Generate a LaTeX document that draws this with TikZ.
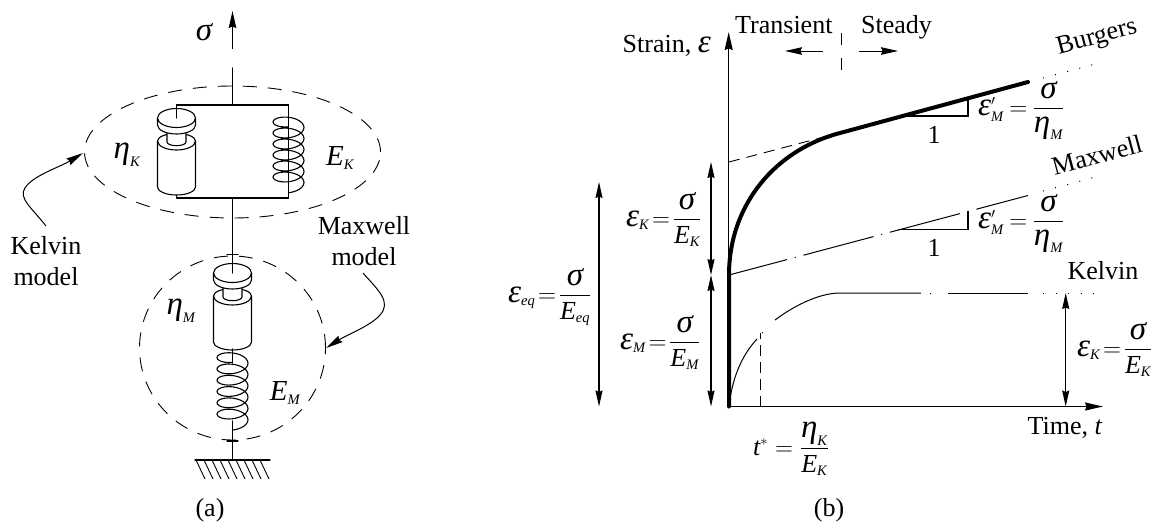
\documentclass[tikz,border=0pt]{standalone}
\usepackage{amsmath}
\usepackage{fontspec}
\setmainfont{Liberation Serif}
\usepackage{tikz}
\usetikzlibrary{arrows.meta}
\DeclareMathSizes{26}{26}{14.5}{11}
\newcommand{\ital}[1]{\text{\itshape #1}}
\newcommand{\grk}[1]{\text{\fontsize{33}{33}\selectfont\itshape #1}}
\newcommand{\bigE}{\text{\fontsize{29}{30}\selectfont\itshape E}}
\newcommand{\ratio}[2]{\genfrac{}{}{1pt}{0}{#1}{#2}}
\newcommand{\eqgap}[1]{\mkern#1mu{=}\mkern#1mu}

\begin{document}
\begin{tikzpicture}[
    x=1pt, y=-1pt,
    every node/.style={inner sep=0pt, font=\fontsize{26}{30}\selectfont},
    modelwire/.style={draw=black, line width=1.1pt, line cap=round, line join=round},
    modelbody/.style={draw=black, fill=white, line width=1.1pt, line join=round},
    dashring/.style={draw=black, line width=0.9pt, dash pattern=on 14pt off 11pt},
    thinline/.style={draw=black, line width=1.1pt},
    fatcurve/.style={draw=black, line width=4pt, line cap=round, line join=round},
    axisarrow/.style={draw=black, line width=1.5pt, -{Stealth[length=18pt,width=8pt,inset=1.5pt]}},
    dimarrow/.style={draw=black, line width=1.1pt, {Stealth[length=16pt,width=7pt,inset=1.5pt]}-{Stealth[length=16pt,width=7pt,inset=1.5pt]}},
    leadarrow/.style={draw=black, line width=1pt, -{Stealth[length=17pt,width=7.5pt,inset=1.5pt]}},
    longdot/.style={draw=black, line width=1pt, dash pattern=on 72.5pt off 8pt on 1pt off 8pt, dash phase=12.5pt},
    dotted tail/.style={draw=black, line width=1pt, dash pattern=on 1pt off 11.5pt}
]
  \useasboundingbox (0,0) rectangle (1156,525);

  % (a)
  \draw[leadarrow] (232.5,49) -- (232.5,11);
  \draw[modelwire] (232.5,68) -- (232.5,105);
  \draw[modelwire] (176.5,105) rectangle (288.5,198);
  \draw[modelwire] (232.5,198) -- (232.5,273);
  \draw[modelwire] (227,254.5) -- (238,254.5);
  \draw[dashring] (232.5,152) circle [x radius=148pt, y radius=66pt];
  \draw[dashring] (232.5,348) circle [x radius=93pt, y radius=92pt];
  \foreach \px/\py in {176.5/0,232.5/155} {
    \begin{scope}[shift={(\px,\py)}]
      \draw[modelbody] (-19,141) -- (-19,187) arc[start angle=180,end angle=360,x radius=19pt,y radius=8pt] -- (19,141) arc[start angle=0,end angle=180,x radius=19pt,y radius=7.5pt] -- cycle;
      \draw[modelwire] (-19,141) arc[start angle=180,end angle=360,x radius=19pt,y radius=9pt];
      \draw[modelbody] (-9.5,128) -- (-9.5,142) arc[start angle=180,end angle=360,x radius=9.5pt,y radius=3.7pt] -- (9.5,128) -- cycle;
      \draw[modelbody] (-19,118) -- (-19,125) arc[start angle=180,end angle=360,x radius=19pt,y radius=9pt] -- (19,118) -- cycle;
      \draw[modelbody] (0,118) circle [x radius=19pt, y radius=9.5pt];
      \draw[modelwire] (0,105) -- (0,118);
    \end{scope}
  }
  \foreach \cx/\cy/\cp in {288.5/127.5/11,232.5/363.25/11.3} {
    \draw[modelwire] plot[smooth, domain=-270:1890, samples=145, variable=\t] ({\cx+15.5*cos(\t)},{\cy+\cp*(\t/360)+7.5*sin(\t)});
  }
  \draw[modelwire] (288.5,105) -- (288.5,127);
  \draw[modelwire] (288.5,186) -- (288.5,198);
  \draw[modelwire] (232.5,349) -- (232.5,363);
  \draw[modelwire] (232.5,421) -- (232.5,460);
  \draw[modelwire] (227,441) -- (238,441);
  \draw[modelwire] (195,460) -- (270,460);
  \foreach \hx in {196,204,...,260} {
    \draw[line width=0.9pt] (\hx,460) -- (\hx+9,479);
  }
  \draw[leadarrow] (46,226) .. controls (32,208) and (18,198) .. (25,188) .. controls (32,176) and (60,167) .. (83,153);
  \draw[leadarrow] (363,273) .. controls (378,290) and (392,302) .. (380,315) .. controls (372,325) and (345,336) .. (326,348);

  \node (sigma) at (204,32) {$\grk{σ}$};
  \node (etak) at (127,155) {$\grk{η}_{\ital{K}}$};
  \node (emodk) at (340,158) {$\bigE_{\ital{K}}$};
  \node (etam) at (181,311) {$\grk{η}_{\ital{M}}$};
  \node (emodm) at (285,393) {$\bigE_{\ital{M}}$};
  \node (kelvintext) at (46,246) {Kelvin};
  \node (kelvinmodel) at (46,277) {model};
  \node (maxwelltext) at (364,226) {Maxwell};
  \node (maxwellmodel) at (364,257) {model};
  \node (capa) at (210,510) {(a)};

  % (b)
  \draw[axisarrow] (728.7,407) -- (728.7,32);
  \draw[axisarrow] (728.7,406.5) -- (1103,406.5);
  \draw[dashring, dash pattern=on 11pt off 7pt] (729,162) -- (820,138);
  \draw[fatcurve] (729,406.5) -- (729,275) .. controls (729,205) and (775,150) .. (840,133) -- (1028,82);
  \draw[dotted tail] (1043,78) -- (1103,62);
  \draw[longdot] (729,275) -- (1028,195.5);
  \draw[dotted tail] (1043,191) -- (1103,175);
  \draw[thinline, line width=1pt] (729,406) .. controls (733,372) and (745,352) .. (757,339);
  \draw[thinline, line width=1pt] (775,320) .. controls (795,305) and (820,293) .. (840,293) -- (921,293);
  \draw[thinline, line width=1pt] (948,293) -- (1028,293);
  \draw[dotted tail] (1043,293) -- (1104,293);
  \draw[dotted tail] (930,293) -- (940,293);
  \draw[dotted tail] (762,333) -- (769,327);
  \draw[dashring, dash pattern=on 11pt off 6pt] (760.7,406.5) -- (760.7,333);
  \draw[dashring, dash pattern=on 12pt off 13pt] (841,33) -- (841,70);
  \draw[leadarrow] (823,51) -- (785,51);
  \draw[leadarrow] (859,51) -- (898,51);
  \draw[thinline] (907,116) -- (968,116) -- (968,97);
  \draw[thinline] (898,229.3) -- (968,229.3) -- (968,211);
  \draw[dimarrow] (711,162) -- (711,275);
  \draw[dimarrow] (711,275) -- (711,406.5);
  \draw[dimarrow] (599,182) -- (599,406.5);
  \draw[dimarrow] (1065.7,293) -- (1065.7,406.5);

  \node[anchor=base east] (strain) at (711,52) {Strain, $\grk{ε}$};
  \node[anchor=base west] (transient) at (735,33) {Transient};
  \node[anchor=base west] (steady) at (861,33) {Steady};
  \node[rotate=15] (burgers) at (1097,38) {Burgers};
  \node[rotate=15] (maxwell) at (1097,155) {Maxwell};
  \node (kelvin) at (1103,271) {Kelvin};
  \node (one) at (934,135) {1};
  \node (onem) at (934,248) {1};
  \node[anchor=base east] (time) at (1102,434) {Time, $\ital{t}$};
  \node (capb) at (829,510) {(b)};
  \node[anchor=base west] (rateb) at (978,115) {$\grk{ε}'_{\ital{M}}\eqgap{4}\ratio{\grk{σ}}{\grk{η}_{\ital{M}}}$};
  \node[anchor=base west] (ratem) at (978,228) {$\grk{ε}'_{\ital{M}}\eqgap{4}\ratio{\grk{σ}}{\grk{η}_{\ital{M}}}$};
  \node[anchor=base west] (epsk) at (626,226) {$\grk{ε}_{\ital{K}}\eqgap{2}\ratio{\grk{σ}}{\ital{E}_{\ital{K}}}$};
  \node[anchor=base west] (epsm) at (620,349) {$\grk{ε}_{\ital{M}}\eqgap{2}\ratio{\grk{σ}}{\ital{E}_{\ital{M}}}$};
  \node[anchor=base west] (epseq) at (508,302) {$\grk{ε}_{\ital{eq}}\eqgap{2}\ratio{\grk{σ}}{\ital{E}_{\ital{eq}}}$};
  \node[anchor=base west] (epskr) at (1077,356) {$\grk{ε}_{\ital{K}}\eqgap{2}\ratio{\grk{σ}}{\ital{E}_{\ital{K}}}$};
  \node[anchor=base west] (tstar) at (753,455) {$\ital{t}^{*}\eqgap{5}\ratio{\grk{η}_{\ital{K}}}{\ital{E}_{\ital{K}}}$};
\end{tikzpicture}
\end{document}
